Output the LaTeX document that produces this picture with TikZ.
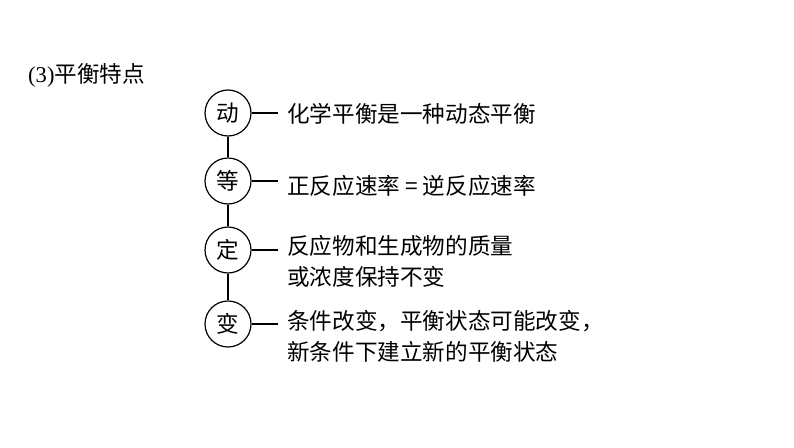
\documentclass[tikz,border=0pt]{standalone}
\usepackage{fontspec}
\setmainfont{Liberation Serif}
\newfontfamily\cjk{Noto Sans CJK SC}
\newcommand{\bigsize}{\fontsize{22.6}{31}\selectfont}

\begin{document}
\begin{tikzpicture}[x=1pt,y=-1pt]
    \useasboundingbox (0,0) rectangle (794,447);
    \node[anchor=west, inner sep=0pt, font=\bigsize] (title) at (28,75) {(3){\cjk 平衡特点}};
    \begin{scope}
        \tikzstyle{every node}=[fill=white, draw=black, circle, line width=1.2pt, minimum size=46pt, inner sep=0pt, font=\bigsize\cjk]
        \node (dong) at (228,113) {动};
        \node (deng) at (228,181) {等};
        \node (ding) at (228,250) {定};
        \node (bian) at (228,324) {变};
    \end{scope}
    \begin{scope}
        \tikzstyle{every node}=[anchor=west, inner xsep=9pt, inner ysep=0pt, align=left, font=\bigsize\cjk]
        \node (dongtxt) at (278,114) {化学平衡是一种动态平衡};
        \node (dengtxt) at (278,186) {正反应速率 = 逆反应速率};
        \node (dingtxt) at (278,261) {反应物和生成物的质量\\或浓度保持不变};
        \node (biantxt) at (278,336) {条件改变，平衡状态可能改变，\\新条件下建立新的平衡状态};
    \end{scope}
    \begin{scope}
        \tikzstyle{every edge}=[draw, line width=1.2pt]
        \path
        (dong) edge (deng)
        (deng) edge (ding)
        (ding) edge (bian)
        (dong.east) edge (dong.east -| dongtxt.west)
        (deng.east) edge (deng.east -| dengtxt.west)
        (ding.east) edge (ding.east -| dingtxt.west)
        (bian.east) edge (bian.east -| biantxt.west)
        ;
    \end{scope}
\end{tikzpicture}
\end{document}
